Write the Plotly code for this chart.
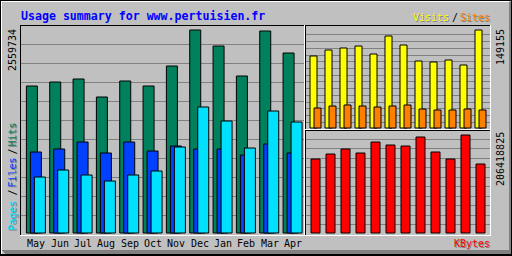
import plotly.graph_objects as go

months = ["May", "Jun", "Jul", "Aug", "Sep", "Oct", "Nov", "Dec", "Jan", "Feb", "Mar", "Apr"]
hits = [1853600, 1904040, 1941870, 1714900, 1916650, 1853600, 2105800, 2559734, 2358000, 1979700, 2547100, 2269700]
files = [1021370, 1059200, 1147460, 1008760, 1147460, 1033980, 1097030, 1059200, 1059200, 983540, 1122240, 1008760]
pages = [706130, 794400, 731350, 655690, 731350, 781790, 1084420, 1588800, 1412270, 1071810, 1538350, 1399660]
visits = [109583, 118715, 121759, 124803, 112627, 140023, 126325, 101973, 100451, 103493, 95885, 149155]
sites = [30440, 33484, 35006, 33484, 31962, 33484, 35006, 28918, 27396, 27396, 28918, 27396]
kbytes = [155867273, 166398846, 176930418, 168505160, 191674620, 185355676, 183249362, 202206192, 170611475, 155867273, 206418825, 145335700]

title = "Usage summary for www.pertuisien.fr"

W, H = 512, 256
BG = "#C0C0C0"
GRID = "#808080"
SHADOW = "#808080"
C_HITS, C_FILES, C_PAGES = "#00805C", "#0040FF", "#00E0FF"
C_VISITS, C_SITES, C_KB = "#FFFF00", "#FF8000", "#FF0000"
MONO = "DejaVu Sans Mono"


def px(c):
    return c / W


def py(r):
    return 1 - r / H


idx = list(range(len(months)))

# ---- left panel (hits/files/pages)
L_X0, L_X1, L_Y0, L_Y1 = 20, 306, 25, 235
L_STEP = 70 / 3
L_ORG = 6.4
maxh = max(hits)
lx_range = [-L_ORG / L_STEP, (L_X1 - L_X0 - L_ORG) / L_STEP]
ly_range = [-2 * maxh / 203, 208 * maxh / 203]

# ---- right panels (visits/sites, kbytes)
R_X0, R_X1 = 305, 491
R_STEP = 15
maxv = max(visits)
maxk = max(kbytes)
vy_range = [-2 * maxv / 98, 103 * maxv / 98]
ky_range = [-2 * maxk / 98, 103 * maxk / 98]

fig = go.Figure()

line = dict(color="black", width=1)
fig.add_bar(x=idx, y=hits, xaxis="x", yaxis="y", marker=dict(color=C_HITS, line=line),
            width=11 / L_STEP, offset=0)
fig.add_bar(x=idx, y=files, xaxis="x", yaxis="y", marker=dict(color=C_FILES, line=line),
            width=11 / L_STEP, offset=4 / L_STEP)
fig.add_bar(x=idx, y=pages, xaxis="x", yaxis="y", marker=dict(color=C_PAGES, line=line),
            width=11 / L_STEP, offset=8 / L_STEP)

fig.add_bar(x=idx, y=visits, xaxis="x2", yaxis="y2", marker=dict(color=C_VISITS, line=line),
            width=7 / R_STEP, offset=0)
fig.add_bar(x=idx, y=sites, xaxis="x2", yaxis="y2", marker=dict(color=C_SITES, line=line),
            width=7 / R_STEP, offset=4 / R_STEP)

fig.add_bar(x=idx, y=kbytes, xaxis="x3", yaxis="y3", marker=dict(color=C_KB, line=line),
            width=9 / R_STEP, offset=0)

hidden = dict(showgrid=False, zeroline=False, showticklabels=False, ticks="", showline=False, fixedrange=True)

fig.update_layout(
    width=W, height=H, margin=dict(l=0, r=0, t=0, b=0, pad=0),
    paper_bgcolor=BG, plot_bgcolor="rgba(0,0,0,0)",
    showlegend=False, barmode="overlay", bargap=0, bargroupgap=0,
    xaxis=dict(domain=[px(L_X0), px(L_X1)], range=lx_range, anchor="y", **hidden),
    yaxis=dict(domain=[py(L_Y1), py(L_Y0)], range=ly_range, anchor="x", **hidden),
    xaxis2=dict(domain=[px(R_X0), px(R_X1)], range=[-5 / R_STEP, (R_X1 - R_X0 - 5) / R_STEP], anchor="y2", **hidden),
    yaxis2=dict(domain=[py(130), py(25)], range=vy_range, anchor="x2", **hidden),
    xaxis3=dict(domain=[px(R_X0), px(R_X1)], range=[-6 / R_STEP, (R_X1 - R_X0 - 6) / R_STEP], anchor="y3", **hidden),
    yaxis3=dict(domain=[py(235), py(130)], range=ky_range, anchor="x3", **hidden),
)

shapes = []


def hline(row, c0, c1, color, layer="above"):
    shapes.append(dict(type="line", xref="paper", yref="paper", x0=px(c0), x1=px(c1 + 1),
                       y0=py(row + 0.5), y1=py(row + 0.5), line=dict(color=color, width=1), layer=layer))


def vline(col, r0, r1, color, layer="above"):
    shapes.append(dict(type="line", xref="paper", yref="paper", x0=px(col + 0.5), x1=px(col + 0.5),
                       y0=py(r0), y1=py(r1 + 1), line=dict(color=color, width=1), layer=layer))


# grid lines
for k in range(1, 11):
    hline(25 + 19 * k, 21, 303, GRID, "below")
for r in [139, 148, 158, 167, 177, 186, 196, 205, 215, 224]:
    hline(r, 306, 489, GRID, "below")
for r in [34, 41, 48, 55, 61, 68, 75, 81, 88, 95, 102, 108, 115, 122]:
    hline(r, 306, 489, GRID, "below")

# panel frames
hline(25, 20, 304, "black"); vline(20, 25, 234, "black")
hline(235, 20, 304, "white"); vline(304, 25, 235, "white")
hline(25, 305, 490, "black"); vline(305, 25, 129, "black")
hline(129, 305, 490, "white"); vline(490, 25, 129, "white")
hline(130, 305, 490, "black"); vline(305, 130, 234, "black")
hline(235, 305, 490, "white"); vline(490, 130, 235, "white")

# outer frame (raised 3D look)
for r in range(250, 254):
    hline(r, 2 + (r - 250), 510, SHADOW)
for c in (509, 510):
    vline(c, 2, 253, SHADOW)
hline(1, 1, 508, "white"); vline(1, 1, 253, "white")
hline(0, 0, 511, "black"); hline(254, 0, 511, "black"); hline(255, 0, 511, "black")
vline(0, 0, 255, "black"); vline(511, 0, 255, "black")

fig.update_layout(shapes=shapes)

ann = []


def text(x, y, s, color, size=10, bold=False, xanchor="left", yanchor="middle", angle=0,
         xref="paper", shadow=False):
    base = dict(x=x, y=y, xref=xref, yref="paper", text=s, showarrow=False,
                xanchor=xanchor, yanchor=yanchor, textangle=angle, borderpad=0)
    if shadow:
        ann.append(dict(base, xshift=1, yshift=-1,
                        font=dict(family=MONO, size=size, color=SHADOW,
                                  weight="bold" if bold else "normal")))
    ann.append(dict(base, font=dict(family=MONO, size=size, color=color,
                                    weight="bold" if bold else "normal")))


text(px(20), py(15.5), title, "#0000FF", size=11.6, bold=True)
text(px(412), py(17), "Visits", C_VISITS, shadow=True)
text(px(451), py(17), "/", "black")
text(px(459), py(17), "Sites", C_SITES, shadow=True)
text(px(453), py(243.5), "KBytes", C_KB, shadow=True)

text(px(12), py(28), str(maxh), "black", xanchor="center", yanchor="top", angle=-90)
text(px(500), py(28), str(maxv), "black", xanchor="center", yanchor="top", angle=-90)
text(px(500), py(131), str(maxk), "black", xanchor="center", yanchor="top", angle=-90)

text(px(11.5), py(232), "Pages", C_PAGES, xanchor="center", yanchor="bottom", angle=-90, shadow=True)
text(px(11.5), py(197), "/", "black", xanchor="center", yanchor="bottom", angle=-90)
text(px(11.5), py(189), "Files", C_FILES, xanchor="center", yanchor="bottom", angle=-90, shadow=True)
text(px(11.5), py(156), "/", "black", xanchor="center", yanchor="bottom", angle=-90)
text(px(11.5), py(148), "Hits", C_HITS, xanchor="center", yanchor="bottom", angle=-90, shadow=True)

for i, m in enumerate(months):
    text(i + 0.43, py(243), m, "black", xanchor="center", xref="x")

fig.update_layout(annotations=ann)

fig.write_html("out.html", config={"displayModeBar": False, "staticPlot": True})
